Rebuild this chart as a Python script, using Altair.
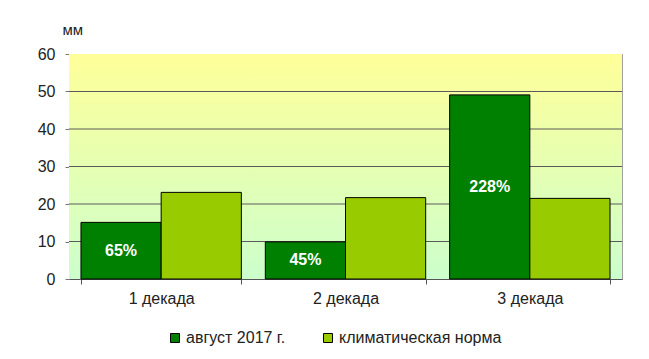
import altair as alt
import pandas as pd

categories = ["1 декада", "2 декада", "3 декада"]
series = ["август 2017 г.", "климатическая норма"]
august = [15.1, 9.9, 49.1]
norm = [23.1, 21.7, 21.5]
pct = ["65%", "45%", "228%"]
grid_values = [10, 20, 30, 40, 50]
y_ticks = [0, 10, 20, 30, 40, 50, 60]
colors = ["#008000", "#99CC00"]

rows = []
for c, a, n, p in zip(categories, august, norm, pct):
    rows.append({"cat": c, "series": series[0], "val": a, "pct": p})
    rows.append({"cat": c, "series": series[1], "val": n, "pct": ""})
df = pd.DataFrame(rows)

W, H = 553, 225
FONT = "Liberation Sans"

yscale = alt.Scale(domain=[0, 60], nice=False)
xscale = alt.Scale(domain=categories, paddingInner=0.13, paddingOuter=0.065)
oscale = alt.Scale(domain=series)

x_axis = alt.Axis(title=None, labelAngle=0, tickBand="extent", tickSize=5,
                  labelPadding=6, labelFontSize=16, labelFont=FONT,
                  labelColor="#222", domainColor="#555", tickColor="#555")
y_axis = alt.Axis(values=y_ticks, grid=False, tickSize=4, labelPadding=10,
                  labelOverlap=False, labelFlush=False,
                  labelFontSize=16, labelFont=FONT, labelColor="#222",
                  domainColor="#777", tickColor="#777",
                  title="мм", titleAngle=0, titleX=-7, titleY=-25,
                  titleFontSize=15, titleFont=FONT, titleFontWeight="normal",
                  titleColor="#222", titleAlign="left", titleBaseline="middle")

bg = alt.Chart(alt.Data(values=[{}])).mark_rect(
    color=alt.LinearGradient(
        gradient="linear",
        stops=[alt.GradientStop(color="#FFFF99", offset=0),
               alt.GradientStop(color="#CCFFCC", offset=1)],
        x1=0, x2=0, y1=0, y2=1,
    )
).encode(x=alt.value(0), x2=alt.value(W), y=alt.value(0), y2=alt.value(H))

grid = alt.Chart(pd.DataFrame({"g": grid_values})).mark_rule(
    color="#5a5a5a", strokeWidth=1
).encode(y=alt.Y("g:Q", scale=yscale, axis=y_axis))

bars = alt.Chart(df).mark_bar(stroke="black", strokeWidth=1).encode(
    x=alt.X("cat:N", scale=xscale, sort=categories, axis=x_axis),
    xOffset=alt.XOffset("series:N", scale=oscale, sort=series),
    y=alt.Y("val:Q", scale=yscale, axis=y_axis),
    color=alt.Color("series:N", scale=alt.Scale(domain=series, range=colors),
                    legend=alt.Legend(title=None, orient="none", direction="horizontal",
                                      legendX=98, legendY=276, symbolType="square",
                                      symbolSize=81, symbolStrokeColor="black",
                                      symbolStrokeWidth=1, labelFontSize=16,
                                      labelFont=FONT, labelColor="#222",
                                      labelLimit=400,
                                      labelOffset=3, columnPadding=34)),
)

labels = alt.Chart(df).transform_filter(
    alt.datum.pct != ""
).transform_calculate(mid="datum.val / 2").mark_text(
    color="white", fontWeight="bold", fontSize=16, font=FONT, baseline="middle"
).encode(
    x=alt.X("cat:N", scale=xscale, sort=categories, axis=x_axis),
    xOffset=alt.XOffset("series:N", scale=oscale, sort=series),
    y=alt.Y("mid:Q", scale=yscale, axis=y_axis),
    text="pct:N",
)

chart = alt.layer(bg, grid, bars, labels).properties(
    width=W, height=H,
    autosize=alt.AutoSizeParams(type="none"),
    padding={"left": 61, "top": 46, "right": 10, "bottom": 70},
).configure_view(stroke="#a0a0a0", strokeWidth=1)

chart.save("out.html", embed_options={"renderer": "svg", "actions": False})
